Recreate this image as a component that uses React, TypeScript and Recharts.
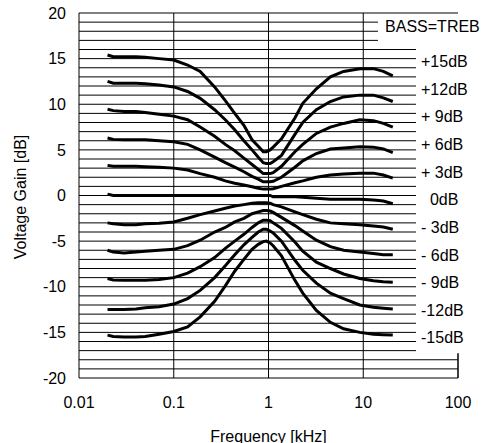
import React from 'react';
import { LineChart, Line, XAxis, YAxis, ReferenceLine, ReferenceDot } from 'recharts';

const FREQ_KHZ = [0.02, 0.023, 0.03, 0.04, 0.05, 0.07, 0.1, 0.14, 0.19, 0.27, 0.35, 0.44, 0.55, 0.67, 0.78, 0.88, 0.95, 1.04, 1.12, 1.37, 1.9, 2.3, 3.2, 4.5, 6.2, 9.2, 12.8, 16.3, 20.5];

const GAIN_P15 = [15.4, 15.2, 15.2, 15.2, 15.15, 15.0, 14.85, 14.3, 13.6, 11.9, 10.4, 9.0, 7.7, 6.1, 5.4, 4.8, 4.8, 5.0, 5.3, 6.2, 8.5, 10.1, 11.7, 13.0, 13.6, 13.9, 13.9, 13.6, 13.1];
const GAIN_P12 = [12.5, 12.3, 12.3, 12.3, 12.25, 12.1, 11.9, 11.4, 10.65, 9.4, 8.3, 7.2, 6.0, 5.0, 4.2, 3.6, 3.5, 3.5, 3.7, 4.4, 6.7, 8.0, 9.4, 10.3, 10.8, 11.0, 11.0, 10.7, 10.3];
const GAIN_P9 = [9.45, 9.3, 9.2, 9.2, 9.1, 8.9, 8.7, 8.3, 7.5, 6.5, 5.6, 4.9, 4.1, 3.4, 2.85, 2.4, 2.4, 2.4, 2.5, 3.2, 4.8, 5.6, 6.8, 7.5, 7.9, 8.3, 8.2, 7.9, 7.5];
const GAIN_P6 = [6.3, 6.15, 6.1, 6.1, 6.1, 6.0, 5.9, 5.6, 5.0, 4.2, 3.6, 3.1, 2.6, 2.1, 1.8, 1.5, 1.5, 1.5, 1.55, 2.0, 3.1, 3.8, 4.6, 5.1, 5.2, 5.35, 5.3, 5.1, 4.7];
const GAIN_P3 = [3.3, 3.2, 3.2, 3.2, 3.15, 3.1, 3.0, 2.8, 2.4, 2.0, 1.6, 1.35, 1.15, 0.95, 0.8, 0.7, 0.7, 0.7, 0.75, 1.0, 1.4, 1.6, 2.0, 2.25, 2.35, 2.45, 2.45, 2.25, 1.9];
const GAIN_0 = [0.15, 0, 0, 0, 0, 0, 0, 0, 0, 0, 0, 0, 0, 0, 0, 0, 0, 0, -0.15, -0.15, -0.15, -0.2, -0.3, -0.4, -0.4, -0.4, -0.5, -0.6, -0.9];
const GAIN_M3 = [-3.0, -3.1, -3.2, -3.2, -3.1, -3.05, -2.9, -2.5, -2.1, -1.7, -1.4, -1.15, -1.0, -0.85, -0.8, -0.8, -0.8, -0.85, -1.0, -1.25, -1.8, -2.1, -2.6, -3.0, -3.1, -3.2, -3.35, -3.45, -3.7];
const GAIN_M6 = [-6.0, -6.2, -6.3, -6.2, -6.1, -6.0, -5.9, -5.5, -4.9, -4.0, -3.5, -2.9, -2.5, -2.0, -1.8, -1.65, -1.65, -1.7, -1.85, -2.4, -3.3, -3.9, -4.9, -5.6, -6.0, -6.2, -6.35, -6.5, -6.5];
const GAIN_M9 = [-9.1, -9.25, -9.3, -9.3, -9.3, -9.2, -9.0, -8.5, -7.8, -6.8, -5.8, -5.0, -4.25, -3.5, -3.0, -2.7, -2.7, -2.75, -3.0, -3.6, -5.1, -6.1, -7.3, -8.0, -8.6, -9.1, -9.35, -9.45, -9.5];
const GAIN_M12 = [-12.5, -12.5, -12.5, -12.45, -12.3, -12.2, -11.9, -11.3, -10.4, -9.0, -7.7, -6.5, -5.4, -4.6, -4.0, -3.7, -3.7, -3.9, -4.1, -5.0, -7.1, -8.2, -9.6, -10.7, -11.3, -12.0, -12.25, -12.35, -12.45];
const GAIN_M15 = [-15.3, -15.45, -15.5, -15.5, -15.45, -15.2, -14.9, -14.4, -13.3, -11.6, -9.9, -8.3, -7.0, -5.9, -5.35, -5.05, -5.0, -5.2, -5.5, -6.6, -9.3, -10.7, -12.6, -13.9, -14.6, -15.0, -15.2, -15.25, -15.3];

const SERIES = [GAIN_P15, GAIN_P12, GAIN_P9, GAIN_P6, GAIN_P3, GAIN_0, GAIN_M3, GAIN_M6, GAIN_M9, GAIN_M12, GAIN_M15];
const SETTINGS_DB = [15, 12, 9, 6, 3, 0, -3, -6, -9, -12, -15];
const LABEL_TEXT = ['+15dB', '+12dB', '+ 9dB', '+ 6dB', '+ 3dB', '\u00A0\u00A00dB', '- 3dB', '- 6dB', '- 9dB', '-12dB', '-15dB'];
const TITLE_TEXT = 'BASS=TREB';

const X_TICKS = [0.01, 0.1, 1, 10, 100];
const Y_TICKS = [-20, -15, -10, -5, 0, 5, 10, 15, 20];
const X_GRID = [0.1, 1, 10];
const Y_GRID = Array.from({ length: 39 }, (_, i) => i - 19);

const LABEL_FREQ = 40.7;
const TITLE_FREQ = 17;
const TITLE_DB = 18.5;

const data = FREQ_KHZ.map((f, i) => {
  const row: Record<string, number> = { f };
  SERIES.forEach((s, j) => {
    row['s' + j] = s[i];
  });
  return row;
});

const gridEnd = (v: number) => (v >= 17 ? 14.3 : v >= -17 ? 36 : 100);

const textShape = (text: string) => (props: any) => (
  <text x={props.cx} y={props.cy} dy="0.35em" textAnchor="start" fontSize={16} fill="#000">
    {text}
  </text>
);

export default function App() {
  return (
    <div style={{ position: 'absolute', left: 0, top: 0, fontFamily: '"Liberation Sans", Arial, sans-serif' }}>
      <LineChart width={483} height={443} data={data} margin={{ top: 13, right: 25, left: 0, bottom: 0 }}>
        <XAxis
          dataKey="f"
          type="number"
          scale="log"
          domain={[0.01, 100]}
          ticks={X_TICKS}
          allowDataOverflow
          height={65}
          tickLine={false}
          tickSize={0}
          tickMargin={19}
          stroke="#000"
          tick={{ fill: '#000', fontSize: 16 }}
          tickFormatter={(v: number) => String(v)}
          label={{
            content: (p: any) => (
              <text x={p.viewBox.x + p.viewBox.width / 2} y={p.viewBox.y + 63.5} textAnchor="middle" fontSize={16} fill="#000">
                Frequency [kHz]
              </text>
            ),
          }}
        />
        <YAxis
          type="number"
          domain={[-20, 20]}
          ticks={Y_TICKS}
          width={79}
          tickLine={false}
          tickSize={0}
          tickMargin={13}
          stroke="#000"
          tick={{ fill: '#000', fontSize: 16 }}
          label={{
            content: (p: any) => {
              const x = 26;
              const y = p.viewBox.y + p.viewBox.height / 2 + 1.5;
              return (
                <text x={x} y={y} transform={`rotate(-90, ${x}, ${y})`} textAnchor="middle" fontSize={16} fill="#000">
                  Voltage Gain [dB]
                </text>
              );
            },
          }}
        />
        {Y_GRID.map((v) => (
          <ReferenceLine
            key={'h' + v}
            segment={[{ x: 0.01, y: v }, { x: gridEnd(v), y: v }]}
            stroke="#000"
            strokeWidth={1}
          />
        ))}
        {X_GRID.map((x) => (
          <ReferenceLine key={'v' + x} x={x} stroke="#000" strokeWidth={1} />
        ))}
        <ReferenceLine y={20} stroke="#000" strokeWidth={1} />
        <ReferenceLine segment={[{ x: 100, y: -20 }, { x: 100, y: -17.3 }]} stroke="#000" strokeWidth={1.5} />
        {SERIES.map((_, j) => (
          <Line
            key={'s' + j}
            dataKey={'s' + j}
            type="linear"
            stroke="#000"
            strokeWidth={3}
            dot={false}
            activeDot={false}
            isAnimationActive={false}
          />
        ))}
        {SETTINGS_DB.map((s, j) => (
          <ReferenceDot
            key={'l' + j}
            x={LABEL_FREQ}
            y={s * 1.01 - 0.45}
            r={1}
            ifOverflow="visible"
            shape={textShape(LABEL_TEXT[j])}
          />
        ))}
        <ReferenceDot x={TITLE_FREQ} y={TITLE_DB} r={1} ifOverflow="visible" shape={textShape(TITLE_TEXT)} />
      </LineChart>
    </div>
  );
}
